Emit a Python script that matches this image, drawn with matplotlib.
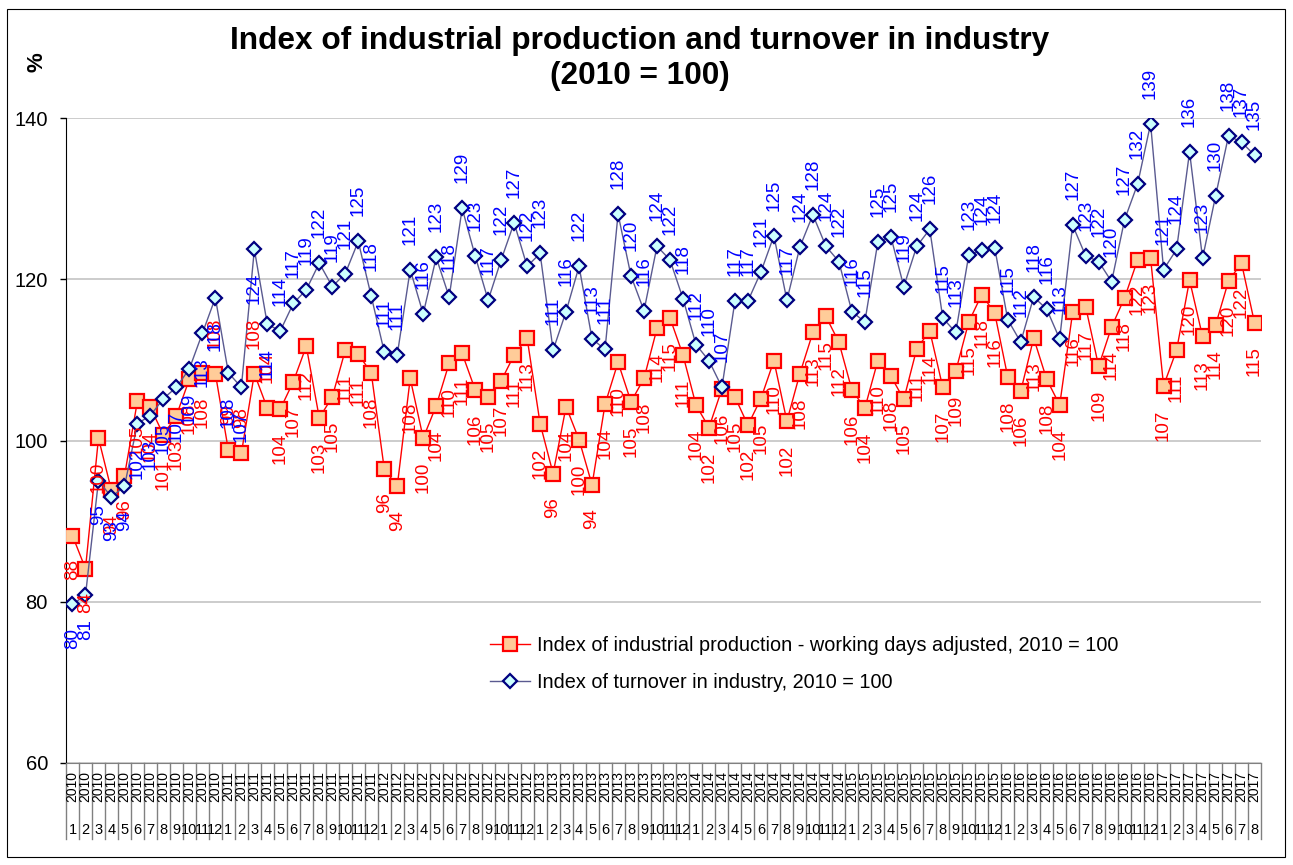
import matplotlib.pyplot as plt
import matplotlib.transforms as mtransforms
from matplotlib.patches import Rectangle

plt.rcParams['font.family'] = ['Liberation Sans', 'DejaVu Sans']

# categories: monthly, 2010-1 .. 2017-8
years = [2010] * 12 + [2011] * 12 + [2012] * 12 + [2013] * 12 + [2014] * 12 + [2015] * 12 + [2016] * 12 + [2017] * 8
months = list(range(1, 13)) * 7 + list(range(1, 9))

# Index of industrial production - working days adjusted
production = [
    88.2, 84.1, 100.3, 93.8, 95.6, 104.9, 104.1, 100.7, 103.1, 107.6, 108.4, 108.3,
    98.8, 98.4, 108.3, 104.0, 103.9, 107.3, 111.7, 102.8, 105.4, 111.2, 110.7, 108.4,
    96.5, 94.3, 107.7, 100.3, 104.3, 109.6, 110.8, 106.3, 105.4, 107.4, 110.6, 112.7,
    102.1, 95.9, 104.2, 100.1, 94.5, 104.5, 109.7, 104.8, 107.7, 113.9, 115.2, 110.6,
    104.4, 101.6, 106.4, 105.4, 101.9, 105.2, 109.9, 102.4, 108.3, 113.4, 115.4, 112.2,
    106.3, 104.0, 109.9, 108.0, 105.1, 111.4, 113.6, 106.6, 108.6, 114.7, 118.1, 115.8,
    107.9, 106.1, 112.7, 107.6, 104.4, 115.9, 116.6, 109.2, 114.1, 117.7, 122.4, 122.6,
    106.8, 111.2, 119.9, 112.9, 114.3, 119.8, 122.0, 114.6,
]

# Index of turnover in industry
turnover = [
    79.7, 80.8, 95.0, 93.0, 94.3, 102.1, 103.1, 105.2, 106.6, 108.9, 113.3, 117.7,
    108.4, 106.6, 123.7, 114.4, 113.6, 117.0, 118.7, 122.0, 119.1, 120.7, 124.7, 117.9,
    111.0, 110.6, 121.2, 115.7, 122.7, 117.8, 128.8, 122.9, 117.4, 122.4, 127.0, 121.6,
    123.2, 111.2, 116.0, 121.6, 112.6, 111.3, 128.1, 120.4, 116.1, 124.1, 122.4, 117.6,
    111.9, 109.9, 106.6, 117.3, 117.3, 120.9, 125.4, 117.4, 124.0, 128.0, 124.1, 122.2,
    116.0, 114.7, 124.6, 125.3, 119.1, 124.1, 126.2, 115.2, 113.4, 123.0, 123.6, 123.9,
    115.0, 112.2, 117.8, 116.3, 112.6, 126.7, 122.9, 122.2, 119.7, 127.4, 131.8, 139.3,
    121.2, 123.7, 135.8, 122.6, 130.3, 137.8, 137.0, 135.4,
]

# labels that were moved to the other side of the marker in the original
blue_below = set(range(0, 16))
red_above = set(range(11, 16))

W, H = 1293, 865
fig = plt.figure(figsize=(W / 100, H / 100), dpi=100)
ax = fig.add_axes([66 / W, 102 / H, (1261 - 66) / W, 645 / H])

x = list(range(len(months)))
ax.plot(x, production, color='#FF0000', lw=1, marker='s', ms=10, mfc='#FFCC99',
        mec='#FF0000', mew=1.6, zorder=3,
        label='Index of industrial production - working days adjusted, 2010 = 100')
ax.plot(x, turnover, color='#5A5A90', lw=1, marker='D', ms=7.5, mfc='#CCFFFF',
        mec='#000080', mew=1.6, zorder=4,
        label='Index of turnover in industry, 2010 = 100')

# data labels, rotated
for i, v in enumerate(production):
    up = i in red_above
    ax.annotate(f'{v:.0f}', (i, v), xytext=(0, 18 if up else -17), textcoords='offset points',
                rotation=90, ha='center', va='bottom' if up else 'top', color='#FF0000',
                fontsize=13.5, annotation_clip=False, zorder=5)
for i, v in enumerate(turnover):
    down = i in blue_below
    ax.annotate(f'{v:.0f}', (i, v), xytext=(0, -17 if down else 18), textcoords='offset points',
                rotation=90, ha='center', va='top' if down else 'bottom', color='#0000FF',
                fontsize=13.5, annotation_clip=False, zorder=5)

ax.set_xlim(-0.5, len(months) - 0.5)
ax.set_ylim(60, 140)
ax.set_yticks([60, 80, 100, 120, 140])
ax.tick_params(axis='y', labelsize=14.5, length=4.5, width=1, pad=8.5, direction='out')
ax.set_xticks([])
ax.yaxis.grid(True, color='#C8C8C8', lw=1.3)
ax.set_axisbelow(True)
for s in ['top', 'right']:
    ax.spines[s].set_visible(False)
ax.spines['left'].set_color('#000000')
ax.spines['bottom'].set_color('#808080')

# two-level category axis: year (rotated) over month, with separators
trans = mtransforms.blended_transform_factory(ax.transData, ax.transAxes)
for i in range(len(months) + 1):
    ax.plot([i - 0.5, i - 0.5], [0, -76 / 645], transform=trans, color='#808080',
            lw=1, clip_on=False)
for i, (yr, m) in enumerate(zip(years, months)):
    ax.text(i, -8 / 645, str(yr), rotation=90, ha='center', va='top',
            transform=trans, fontsize=10)
    ax.text(i, -67 / 645, str(m), ha='center', va='center', transform=trans,
            fontsize=10.5)

ax.legend(loc='center left', bbox_to_anchor=(490 / W, 1 - 664 / H),
          bbox_transform=fig.transFigure, frameon=False, fontsize=14.3,
          handlelength=2.0, handletextpad=0.35, labelspacing=0.9,
          borderpad=0, borderaxespad=0)

fig.text(640 / W, 1 - 41 / H, 'Index of industrial production and turnover in industry',
         ha='center', va='center', fontsize=22.8, fontweight='bold')
fig.text(640 / W, 1 - 76 / H, '(2010 = 100)', ha='center', va='center',
         fontsize=22.8, fontweight='bold')
fig.text(37 / W, 1 - 62 / H, '%', rotation=90, ha='center', va='center',
         fontsize=16, fontweight='bold')

fig.patches.append(Rectangle((7 / W, 8 / H), 1278 / W, 848 / H, transform=fig.transFigure,
                             fill=False, edgecolor='#000000', lw=0.8))

fig.savefig('out.png', dpi=100)
